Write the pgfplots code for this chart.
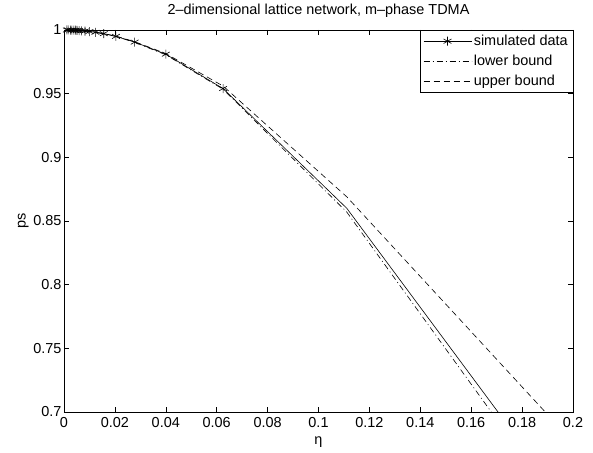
\documentclass[border=0pt]{standalone}
\usepackage{pgfplots}
\pgfplotsset{compat=1.18}
\usepackage{fontspec}
\setmainfont{Liberation Sans}
\begin{document}
\begin{tikzpicture}[font=\fontsize{14.5}{17}\selectfont]
\begin{axis}[
  scale only axis, width=509bp, height=382bp,
  xmin=0, xmax=0.2, ymin=0.7, ymax=1,
  xtick={0,0.02,...,0.2}, ytick={0.7,0.75,...,1.0},
  xticklabels={0,0.02,0.04,0.06,0.08,0.1,0.12,0.14,0.16,0.18,0.2},
  yticklabels={0.7,0.75,0.8,0.85,0.9,0.95,1},
  tick align=inside, major tick length=5bp,
  xtick pos=both, ytick pos=both,
  xticklabel style={yshift=-2bp}, yticklabel style={xshift=1bp},
  axis line style={line width=0.6pt}, tick style={black, line width=0.5pt},
  title={2\textendash dimensional lattice network, m\textendash phase TDMA},
  title style={yshift=3bp},
  xlabel={η}, ylabel={ps},
  xlabel style={yshift=-2bp}, ylabel style={yshift=-2bp},
  legend style={at={(1,1)}, anchor=north east, draw=black, line width=0.5pt,
    inner xsep=3bp, inner ysep=3bp, row sep=4bp, cells={anchor=west},
    font=\fontsize{14.5}{17}\selectfont},
  legend image code/.code={\draw[#1] (0bp,0bp) -- (48bp,0bp);},
  every axis plot/.append style={line width=0.6pt},
  /pgf/number format/assume math mode=true,
]
\addplot[black, mark=asterisk, mark size=4.5bp, mark indices={2,...,19},
  mark options={solid, line width=0.6pt},
  legend image code/.code={\draw[black,line width=0.6pt] (0bp,0bp) -- (48bp,0bp);
    \begin{scope}[shift={(24bp,0bp)}]\pgfsetlinewidth{0.6pt}\pgfsetplotmarksize{4.5bp}\pgfuseplotmark{asterisk}\end{scope}}] table {
x y
0.25 0.486
0.111111 0.860
0.0625 0.954
0.04 0.981
0.027778 0.9905
0.020408 0.9950
0.015625 0.9971
0.012346 0.9982
0.01 0.9988
0.008264 0.9992
0.006944 0.9994
0.005917 0.9996
0.005102 0.9997
0.004444 0.9998
0.003906 0.9998
0.003086 0.9999
0.0025 0.9999
0.0016 1.0
0.001111 1.0
};
\addlegendentry{simulated data}
\addplot[black, dash pattern=on 6bp off 3bp on 1bp off 3bp] table {
x y
0.25 0.473
0.111111 0.857
0.0625 0.9535
0.04 0.9805
0.027778 0.9903
0.020408 0.9949
0.015625 0.9970
0.012346 0.9981
0.01 0.9988
0.006944 0.9994
0.004444 0.9998
0.0025 0.9999
0.001111 1.0
};
\addlegendentry{lower bound}
\addplot[black, dash pattern=on 6bp off 4bp] table {
x y
0.25 0.568
0.111111 0.869
0.0625 0.956
0.04 0.9815
0.027778 0.9908
0.020408 0.9952
0.015625 0.9972
0.012346 0.9983
0.01 0.9989
0.006944 0.9995
0.004444 0.9998
0.0025 0.9999
0.001111 1.0
};
\addlegendentry{upper bound}
\end{axis}
\path (current axis.south west) ++(-64bp,-41bp) coordinate (bl);
\path (current axis.north east) ++(20bp,30bp) coordinate (tr);
\path (bl) rectangle (tr);
\end{tikzpicture}
\end{document}
